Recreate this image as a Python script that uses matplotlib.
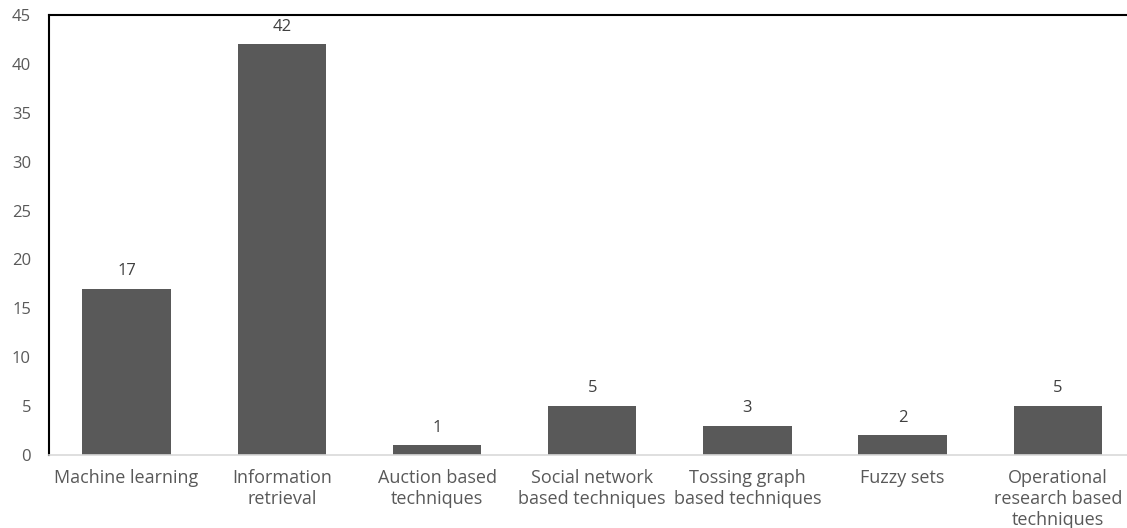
import matplotlib
matplotlib.use("Agg")
import matplotlib.pyplot as plt

categories = ["Machine learning", "Information\nretrieval", "Auction based\ntechniques",
              "Social network\nbased techniques", "Tossing graph\nbased techniques",
              "Fuzzy sets", "Operational\nresearch based\ntechniques"]
counts = [17, 42, 1, 5, 3, 2, 5]
yticks = [0, 5, 10, 15, 20, 25, 30, 35, 40, 45]

plt.rcParams["font.family"] = ["Open Sans", "DejaVu Sans"]

W, H = 1127, 528
fig = plt.figure(figsize=(W / 100, H / 100), dpi=100)
left, right, top, bottom = 49, 1135.5, 15, 455
ax = fig.add_axes([left / W, 1 - bottom / H, (right - left) / W, (bottom - top) / H])

x = range(len(categories))
bars = ax.bar(x, counts, width=0.57, color="#595959", zorder=2)
for b, v in zip(bars, counts):
    ax.annotate(str(v), (b.get_x() + b.get_width() / 2, v), xytext=(0, 7),
                textcoords="offset points", ha="center", va="bottom",
                fontsize=12, color="#404040")

ax.set_xlim(-0.5, len(categories) - 0.5)
ax.set_ylim(0, 45)
ax.set_yticks(yticks)
ax.set_xticks(list(x))
ax.set_xticklabels(categories, fontsize=13, color="#595959", linespacing=1.22)
ax.tick_params(axis="y", labelsize=12, labelcolor="#595959", length=0, pad=13)
ax.tick_params(axis="x", length=0, pad=10)

ax.spines["top"].set_color("black")
ax.spines["top"].set_linewidth(1.5)
ax.spines["left"].set_color("black")
ax.spines["left"].set_linewidth(1.5)
ax.spines["bottom"].set_color("#d9d9d9")
ax.spines["bottom"].set_linewidth(1.2)
ax.spines["right"].set_visible(False)

fig.savefig("out.png", dpi=100)
